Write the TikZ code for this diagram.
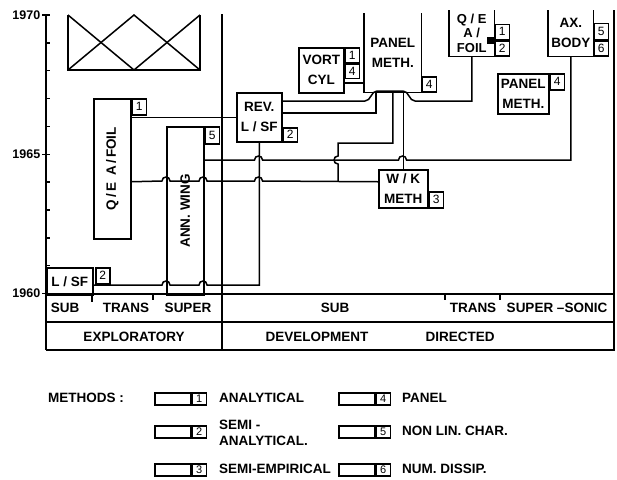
\documentclass[tikz,border=0pt]{standalone}
\usepackage{fontspec}
\setmainfont{Liberation Sans}
\begin{document}
\begin{tikzpicture}[x=1pt,y=-1pt,line width=1.5pt,
  every node/.style={font=\fontsize{13.5}{20}\selectfont\bfseries},
  box/.style={draw,inner sep=0pt,anchor=north west,align=center},
  openbox/.style={inner sep=0pt,anchor=north west,align=center},
  tag/.style={draw,inner sep=0pt,minimum width=14pt,minimum height=15pt,font=\fontsize{12}{12}\selectfont},
  lgbox/.style={draw,inner sep=0pt,minimum width=36pt,minimum height=12pt,anchor=north west},
  lgtag/.style={draw,inner sep=0pt,minimum width=14pt,minimum height=12pt,anchor=west,font=\fontsize{11}{11}\selectfont},
  hop/.style args={#1/#2}{insert path={-- ({#1-4},#2) .. controls ({#1-4},{#2-5.3}) and ({#1+4},{#2-5.3}) .. ({#1+4},#2)}},
  vhop/.style args={#1/#2}{insert path={-- (#1,{#2-4}) .. controls ({#1-5.3},{#2-4}) and ({#1-5.3},{#2+4}) .. (#1,{#2+4})}}]
\useasboundingbox (0,0) rectangle (617,479);
% time axis
\draw (46,15) -- (46,350);
\foreach \t in {0,...,10} \draw (46,{15+27.85*\t}) -- (50,{15+27.85*\t});
\foreach \t in {15,154.25,293.5} \draw (42,\t) -- (46,\t);
\node[anchor=east,inner sep=0pt,font=\fontsize{12.5}{12.5}\selectfont\bfseries] (y1970) at (41,15) {1970};
\node[anchor=east,inner sep=0pt,font=\fontsize{12.5}{12.5}\selectfont\bfseries] (y1965) at (41,154) {1965};
\node[anchor=east,inner sep=0pt,font=\fontsize{12.5}{12.5}\selectfont\bfseries] (y1960) at (41,293) {1960};
% table
\draw (222,14) -- (222,350);
\draw (614,10) -- (614,350) -- (46,350);
\draw (46,294) -- (614,294);
\draw (46,322) -- (614,322);
\draw (92,294) -- (92,302);
\draw (153,294) -- (153,300);
\draw (445,294) -- (445,300);
\draw (500,294) -- (500,300);
\node (sub1) at (65,308) {SUB};
\node (trans1) at (126,308) {TRANS};
\node (super1) at (188,308) {SUPER};
\node (sub2) at (335,308) {SUB};
\node (trans2) at (473,308) {TRANS};
\node (super2) at (557,308) {SUPER --SONIC};
\node (explor) at (134,337) {EXPLORATORY};
\node (devel) at (317,337) {DEVELOPMENT};
\node (direct) at (460,337) {DIRECTED};
% crossed frame
\draw (68,15) -- (68,70) -- (200,70) -- (200,15);
\draw (68,15) -- (134,70) -- (200,15);
\draw (68,70) -- (134,15) -- (200,70);
% methods
\node[box,minimum width=37pt,minimum height=140pt] (qeafoil) at (93,98) {\rotatebox{90}{Q\,/\,E\enspace A\,/\,FOIL}};
\node[tag,anchor=north west,minimum height=16pt] (qeafoil1) at (qeafoil.north east) {1};
\node[box,minimum width=37pt,minimum height=168pt] (annwing) at (166,126) {\rotatebox{90}{ANN.\ WING}};
\node[tag,anchor=north west,minimum height=17pt] (annwing5) at (annwing.north east) {5};
\node[box,minimum width=46pt,minimum height=27pt] (lsf) at (46,267) {L / SF};
\node[tag,anchor=north west,minimum height=16pt] (lsf2) at ([xshift=1.5pt]lsf.north east) {2};
\node[box,minimum width=45pt,minimum height=49pt] (rev) at (236,92) {REV.\\L / SF};
\node[tag,anchor=south west,minimum height=14pt] (rev2) at (rev.south east) {2};
\node[box,minimum width=45pt,minimum height=45pt] (vort) at (298,47) {VORT\\CYL};
\node[tag,anchor=north west] (vort1) at (vort.north east) {1};
\node[tag,anchor=north west,minimum height=14pt] (vort4) at (vort1.south west) {4};
\node[openbox,minimum width=56pt,minimum height=78pt] (pana) at (364,13) {PANEL\\METH.};
\draw (pana.north west) |- (pana.south east) -- (pana.north east);
\node[tag,anchor=south west] (pana4) at (pana.south east) {4};
\node[openbox,minimum width=44pt,minimum height=45pt,font=\fontsize{13}{14.5}\selectfont\bfseries] (qefoil) at (449,10) {Q / E\\A /\\FOIL};
\draw (qefoil.north west) |- (qefoil.south east) -- (qefoil.north east);
\node[tag,anchor=south west] (qefoil2) at (qefoil.south east) {2};
\node[tag,anchor=south west] (qefoil1) at (qefoil2.north west) {1};
\fill (qefoil.east |- 0,37) rectangle ++(-8,7);
\node[openbox,minimum width=44pt,minimum height=45pt] (axbody) at (548,10) {AX.\\BODY};
\draw (axbody.north west) |- (axbody.south east) -- (axbody.north east);
\node[tag,anchor=south west] (axbody6) at (axbody.south east) {6};
\node[tag,anchor=south west,minimum height=16pt] (axbody5) at (axbody6.north west) {5};
\node[box,minimum width=51pt,minimum height=40pt] (panb) at (497,73) {PANEL\\METH.};
\node[tag,anchor=north west,minimum height=16pt] (panb4) at (panb.north east) {4};
\node[box,minimum width=49pt,minimum height=38pt] (wk) at (378,169) {W / K\\METH};
\node[tag,anchor=south west,minimum height=16pt] (wk3) at (wk.south east) {3};
\coordinate (wkin) at ([yshift=7pt]wk.west);
% links
\draw (qeafoil.east |- rev.west) -- (rev.west);
\draw (qeafoil.east |- wkin) [hop=166/181] [hop=203/181] [hop=258.5/181] -- (wkin);
\draw (annwing.east |- 0,160) [hop=258.5/160] [hop=402.5/160] -| (axbody.south);
\draw (lsf.east |- 0,285) [hop=166/285] [hop=203/285] -| (rev.south);
\draw (rev.east |- 0,113) -| ([xshift=-17pt]pana.south);
\draw (rev.east |- 0,101) -- (365,101) .. controls (371,101) and (371,91) .. (377,91) -- (403,91) .. controls (409,91) and (409,101) .. (415,101) -| (qefoil.south);
\draw (pana.south) |- (338,143) [vhop=338/160] -- (338,0 |- wkin);
\draw (wk.north) -- (wk.north |- pana.south);
\draw (vort.east |- 0,83) -- (pana.west |- 0,83);
% legend
\node[anchor=west] (methods) at (44,398) {METHODS :};
\node[lgbox] (lg1) at (154,392) {};
\node[lgtag] (lg1t) at (lg1.east) {1};
\node[anchor=west] (lg1x) at (215,398) {ANALYTICAL};
\node[lgbox] (lg2) at (154,425) {};
\node[lgtag] (lg2t) at (lg2.east) {2};
\node[anchor=west,align=left,font=\fontsize{13.5}{16}\selectfont\bfseries] (lg2x) at (215,433) {SEMI -\\ANALYTICAL.};
\node[lgbox] (lg3) at (154,463) {};
\node[lgtag] (lg3t) at (lg3.east) {3};
\node[anchor=west] (lg3x) at (215,469) {SEMI-EMPIRICAL};
\node[lgbox] (lg4) at (338,392) {};
\node[lgtag] (lg4t) at (lg4.east) {4};
\node[anchor=west] (lg4x) at (398,398) {PANEL};
\node[lgbox] (lg5) at (338,425) {};
\node[lgtag] (lg5t) at (lg5.east) {5};
\node[anchor=west] (lg5x) at (398,431) {NON LIN. CHAR.};
\node[lgbox] (lg6) at (338,463) {};
\node[lgtag] (lg6t) at (lg6.east) {6};
\node[anchor=west] (lg6x) at (398,469) {NUM. DISSIP.};
\end{tikzpicture}
\end{document}
